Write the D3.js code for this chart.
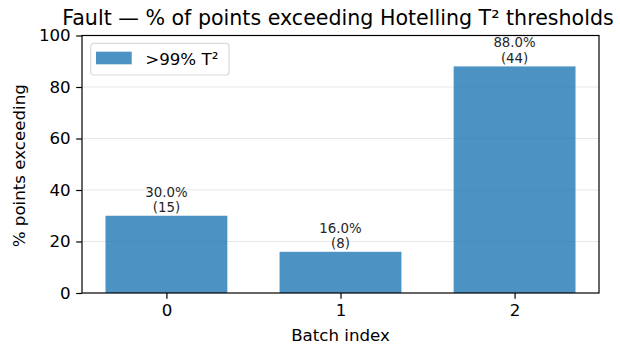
<!DOCTYPE html>
<html>
<head>
<meta charset="utf-8">
<script src="https://cdn.jsdelivr.net/npm/d3@7"></script>
<style>
  html, body { margin: 0; padding: 0; background: #fff; }
  svg { display: block; font-family: "DejaVu Sans", sans-serif; }
</style>
</head>
<body>
<svg id="chart" width="620" height="347"></svg>
<script>
// Batch indices and share of points above the 99% Hotelling T² limit
const batches = [0, 1, 2];
const pctExceeding = [30.0, 16.0, 88.0];
const countExceeding = [15, 8, 44];
const yTicks = [0, 20, 40, 60, 80, 100];
const seriesName = ">99% T²";

const W = 620, H = 347;
const margin = { left: 82, right: 21, top: 35.5, bottom: 54 };
const plotW = W - margin.left - margin.right;
const plotH = H - margin.top - margin.bottom;
const barColor = "#1f77b4";
const barWidth = 0.7;
const fs = 16.67;   // base text size

const svg = d3.select("#chart");
const g = svg.append("g").attr("transform", `translate(${margin.left},${margin.top})`);

const x = d3.scaleLinear()
  .domain([d3.min(batches) - barWidth / 2 - 0.135, d3.max(batches) + barWidth / 2 + 0.135])
  .range([0, plotW]);
const y = d3.scaleLinear().domain([0, 100]).range([plotH, 0]);

// horizontal grid
g.append("g").selectAll("line")
  .data(yTicks.filter(t => t > 0 && t < 100))
  .join("line")
  .attr("x1", 0).attr("x2", plotW)
  .attr("y1", d => y(d)).attr("y2", d => y(d))
  .attr("stroke", "#b0b0b0").attr("stroke-opacity", 0.3).attr("stroke-width", 1.2);

// bars
g.append("g").selectAll("rect")
  .data(batches)
  .join("rect")
  .attr("x", (d) => x(d - barWidth / 2))
  .attr("width", x(barWidth) - x(0))
  .attr("y", (d, i) => y(pctExceeding[i]))
  .attr("height", (d, i) => y(0) - y(pctExceeding[i]))
  .attr("fill", barColor).attr("fill-opacity", 0.8);

// value labels
const lab = g.append("g").selectAll("text")
  .data(batches)
  .join("text")
  .attr("text-anchor", "middle")
  .attr("font-size", 13.33)
  .attr("fill", "#262626");
lab.append("tspan")
  .attr("x", d => x(d))
  .attr("y", (d, i) => y(pctExceeding[i]) - 19)
  .text((d, i) => pctExceeding[i].toFixed(1) + "%");
lab.append("tspan")
  .attr("x", d => x(d))
  .attr("y", (d, i) => y(pctExceeding[i]) - 3.5)
  .text((d, i) => "(" + countExceeding[i] + ")");

// axes
const xAxis = d3.axisBottom(x).tickValues(batches).tickFormat(d3.format("d")).tickSizeOuter(0).tickSize(5.8).tickPadding(5.5);
const yAxis = d3.axisLeft(y).tickValues(yTicks).tickSizeOuter(0).tickSize(5.8).tickPadding(5.5);

const gx = g.append("g").attr("transform", `translate(0,${plotH})`).call(xAxis);
const gy = g.append("g").call(yAxis);
[gx, gy].forEach(a => {
  a.select(".domain").remove();
  a.selectAll("line").attr("stroke", "#000").attr("stroke-width", 1.2);
  a.selectAll("text").attr("font-size", fs).attr("fill", "#000").attr("font-family", "DejaVu Sans");
});

// frame
g.append("rect")
  .attr("x", 0).attr("y", 0).attr("width", plotW).attr("height", plotH)
  .attr("fill", "none").attr("stroke", "#000").attr("stroke-width", 1.2);

// legend
const leg = g.append("g").attr("transform", "translate(8.7,7.8)");
leg.append("rect").attr("width", 138.3).attr("height", 31.7).attr("rx", 3)
  .attr("fill", "#fff").attr("fill-opacity", 0.8).attr("stroke", "#d9d9d9").attr("stroke-width", 1.2);
leg.append("rect").attr("x", 5.3).attr("y", 8.4).attr("width", 35.7).attr("height", 12.6)
  .attr("fill", barColor).attr("fill-opacity", 0.8);
leg.append("text").attr("x", 54.5).attr("y", 21.5).attr("font-size", fs).attr("fill", "#000").text(seriesName);

// titles
svg.append("text").attr("x", 338).attr("y", 25)
  .attr("text-anchor", "middle").attr("font-size", 20.6).attr("fill", "#000")
  .text("Fault — % of points exceeding Hotelling T² thresholds");
svg.append("text").attr("x", margin.left + plotW / 2).attr("y", 341)
  .attr("text-anchor", "middle").attr("font-size", fs).attr("fill", "#000")
  .text("Batch index");
svg.append("text")
  .attr("transform", `translate(24.5,${margin.top + plotH / 2 + 1.5}) rotate(-90)`)
  .attr("text-anchor", "middle").attr("font-size", fs).attr("fill", "#000")
  .text("% points exceeding");
</script>
</body>
</html>
